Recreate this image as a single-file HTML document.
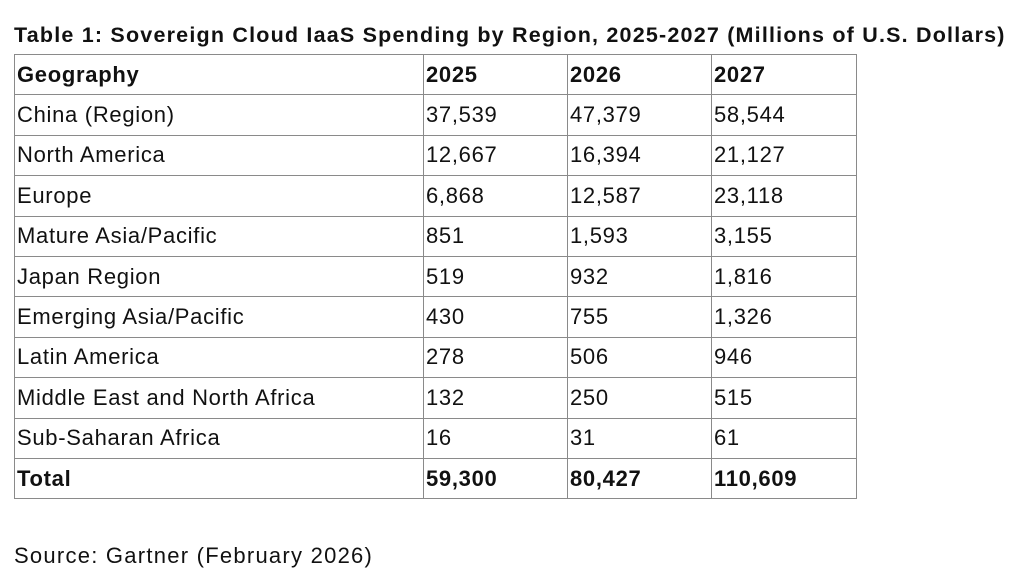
<!DOCTYPE html>
<html><head><meta charset="utf-8"><style>
body{margin:0;width:1030px;height:572px;background:#fff;font-family:"Liberation Sans",sans-serif;color:#111;position:relative;overflow:hidden}
#title{position:absolute;left:14px;top:23px;font-size:21.5px;font-weight:bold;white-space:nowrap;letter-spacing:1.2px}
#tbl{position:absolute;left:14px;top:54px;border-collapse:collapse;table-layout:fixed}
#tbl td{border:1.5px solid #8a8a8a;height:39.4px;padding:0 0 0 2px;font-size:22px;letter-spacing:0.7px;white-space:nowrap;vertical-align:middle;line-height:1}
#tbl tr.b td{font-weight:bold}
#src{position:absolute;left:14px;top:543px;font-size:22px;letter-spacing:1.25px}
</style></head><body>
<div id="title">Table 1: Sovereign Cloud IaaS Spending by Region, 2025-2027 (Millions of U.S. Dollars)</div>
<table id="tbl">
<colgroup><col style="width:409px"><col style="width:144px"><col style="width:144px"><col style="width:145px"></colgroup>
<tr class="b"><td>Geography</td><td>2025</td><td>2026</td><td>2027</td></tr>
<tr><td>China (Region)</td><td>37,539</td><td>47,379</td><td>58,544</td></tr>
<tr><td>North America</td><td>12,667</td><td>16,394</td><td>21,127</td></tr>
<tr><td>Europe</td><td>6,868</td><td>12,587</td><td>23,118</td></tr>
<tr><td>Mature Asia/Pacific</td><td>851</td><td>1,593</td><td>3,155</td></tr>
<tr><td>Japan Region</td><td>519</td><td>932</td><td>1,816</td></tr>
<tr><td>Emerging Asia/Pacific</td><td>430</td><td>755</td><td>1,326</td></tr>
<tr><td>Latin America</td><td>278</td><td>506</td><td>946</td></tr>
<tr><td>Middle East and North Africa</td><td>132</td><td>250</td><td>515</td></tr>
<tr><td>Sub-Saharan Africa</td><td>16</td><td>31</td><td>61</td></tr>
<tr class="b"><td>Total</td><td>59,300</td><td>80,427</td><td>110,609</td></tr>
</table>
<div id="src">Source: Gartner (February 2026)</div>
</body></html>
